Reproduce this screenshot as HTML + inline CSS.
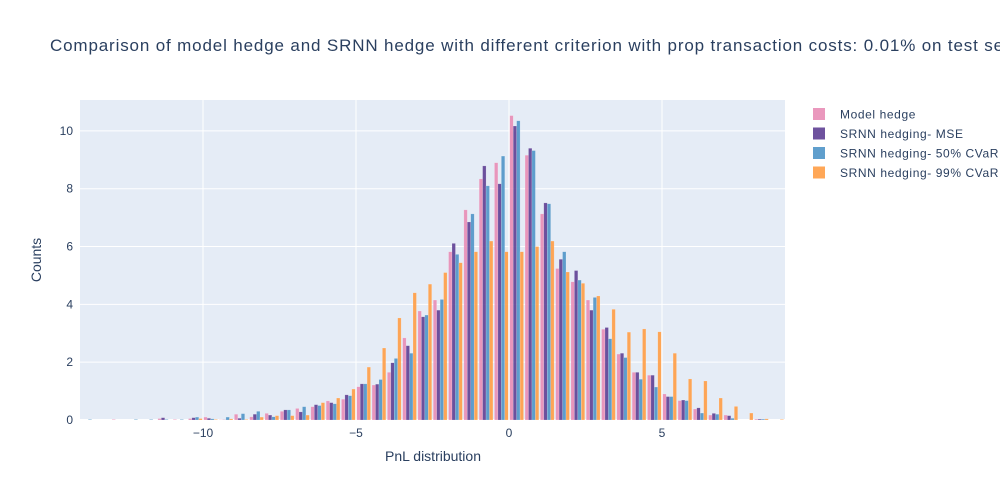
<!DOCTYPE html>
<html><head><meta charset="utf-8"><style>
html,body{margin:0;padding:0;background:#fff;width:1000px;height:500px;overflow:hidden}
svg text{font-family:"Liberation Sans",sans-serif;fill:#2a3f5f}
</style></head><body>
<svg id="chart" width="1000" height="500" xmlns="http://www.w3.org/2000/svg">
<rect x="0" y="0" width="1000" height="500" fill="#fff"/>
<text x="50" y="51" font-size="17" letter-spacing="0.85">Comparison of model hedge and SRNN hedge with different criterion with prop transaction costs: 0.01% on test set</text>
<rect x="80" y="100" width="705" height="320" fill="#e5ecf6"/>
<g id="grid"></g><g id="bars"></g><g id="ticks"></g>
<text transform="translate(41,260) rotate(-90)" text-anchor="middle" font-size="14">Counts</text>
<text x="433" y="461" text-anchor="middle" font-size="14">PnL distribution</text>
<g id="legend"></g>
</svg>
<script>
const binStart = -14;
const binWidth = 0.5;
const seriesNames = ["Model hedge","SRNN hedging- MSE","SRNN hedging- 50% CVaR","SRNN hedging- 99% CVaR"];
const seriesColors = ["#e88db6","#5e3f93","#4f95c8","#ff9d45"];
const yTicks = [0,2,4,6,8,10];
const xTicks = [-10,-5,0,5];
// bins from -14 step 0.5 (46 bins)
const modelHedge = [0,0,0.02,0,0,0.05,0.02,0.05,0.1,0.01,0.2,0.11,0.23,0.3,0.4,0.46,0.66,0.72,1.15,1.21,1.65,2.84,3.77,4.15,5.82,7.27,8.34,8.9,10.53,9.16,7.13,5.24,4.78,4.15,3.14,2.28,1.65,1.55,0.9,0.67,0.38,0.17,0.17,0,0.03,0];
const mseHedge = [0,0,0,0,0,0.08,0,0.08,0.06,0.01,0.06,0.2,0.17,0.35,0.28,0.53,0.6,0.87,1.25,1.24,1.98,2.57,3.57,3.8,6.11,6.85,8.79,8.17,10.17,9.4,7.51,5.56,5.17,3.8,3.2,2.31,1.65,1.55,0.81,0.69,0.42,0.23,0.15,0,0.03,0];
const cvar50Hedge = [0.02,0,0,0.02,0.02,0.02,0.02,0.1,0.04,0.1,0.22,0.3,0.11,0.35,0.46,0.5,0.56,0.84,1.25,1.4,2.13,2.31,3.63,4.17,5.73,7.13,8.1,9.13,10.35,9.32,7.48,5.82,4.84,4.24,2.81,2.16,1.41,1.14,0.81,0.67,0.24,0.2,0.06,0,0.03,0];
const cvar99Hedge = [0,0,0,0,0,0,0,0.05,0.02,0.04,0.02,0.1,0.15,0.15,0.17,0.6,0.76,1.07,1.83,2.49,3.53,4.4,4.7,5.1,5.44,5.82,6.19,5.82,5.82,6.0,6.19,5.12,4.73,4.29,3.83,3.04,3.15,3.05,2.31,1.42,1.35,0.76,0.47,0.24,0.04,0.02];
const allSeries = [modelHedge,mseHedge,cvar50Hedge,cvar99Hedge];

const NS="http://www.w3.org/2000/svg";
const px0=80,px1=785,py0=100,py1=420;
const xMin=-14.02,xMax=9.02,yMax=11.07;
const xs=v=>px0+(v-xMin)/(xMax-xMin)*(px1-px0);
const ys=v=>py1-v/yMax*(py1-py0);
function mk(tag,attrs,parent){const e=document.createElementNS(NS,tag);for(const k in attrs)e.setAttribute(k,attrs[k]);parent.appendChild(e);return e;}
const grid=document.getElementById('grid'),ticks=document.getElementById('ticks'),bars=document.getElementById('bars'),legend=document.getElementById('legend');
yTicks.forEach(t=>{
  if(t>0){const l=mk('line',{x1:px0,x2:px1,y1:ys(t),y2:ys(t),stroke:'#fff','stroke-width':1},grid);
  
  }
  const tx=mk('text',{x:73,y:ys(t)+4,'text-anchor':'end','font-size':12},ticks);tx.textContent=t;
  
  
});
xTicks.forEach(t=>{
  const l=mk('line',{x1:xs(t),x2:xs(t),y1:py0,y2:py1,stroke:'#fff','stroke-width':1},grid);
  
  
  const tx=mk('text',{x:xs(t),y:437,'text-anchor':'middle','font-size':12},ticks);tx.textContent=t<0?'\u2212'+Math.abs(t):t;
  
  
});
const zl=mk('line',{x1:px0,x2:px1,y1:py1,y2:py1,stroke:'#fff','stroke-width':2},grid);


const gap=0.1;
allSeries.forEach((arr,si)=>{
  arr.forEach((v,i)=>{
    if(v<=0)return;
    const b0=binStart+i*binWidth;
    const g0=xs(b0+binWidth*gap/2),g1=xs(b0+binWidth*(1-gap/2));
    const w=(g1-g0)/4;
    const r=mk('rect',{x:g0+si*w,y:ys(v),width:w,height:ys(0)-ys(v),fill:seriesColors[si],'fill-opacity':0.9,stroke:'rgba(255,255,255,0.3)','stroke-width':0.5},bars);
    
    
  });
});
seriesNames.forEach((n,i)=>{
  const y=114+i*19.5;
  const s=mk('rect',{x:813,y:y-6,width:12,height:12,fill:seriesColors[i],'fill-opacity':0.9},legend);
  
  
  const t=mk('text',{x:840,y:y+4.5,'font-size':12,'letter-spacing':0.6},legend);t.textContent=n;
  
  
});
</script>
</body></html>
